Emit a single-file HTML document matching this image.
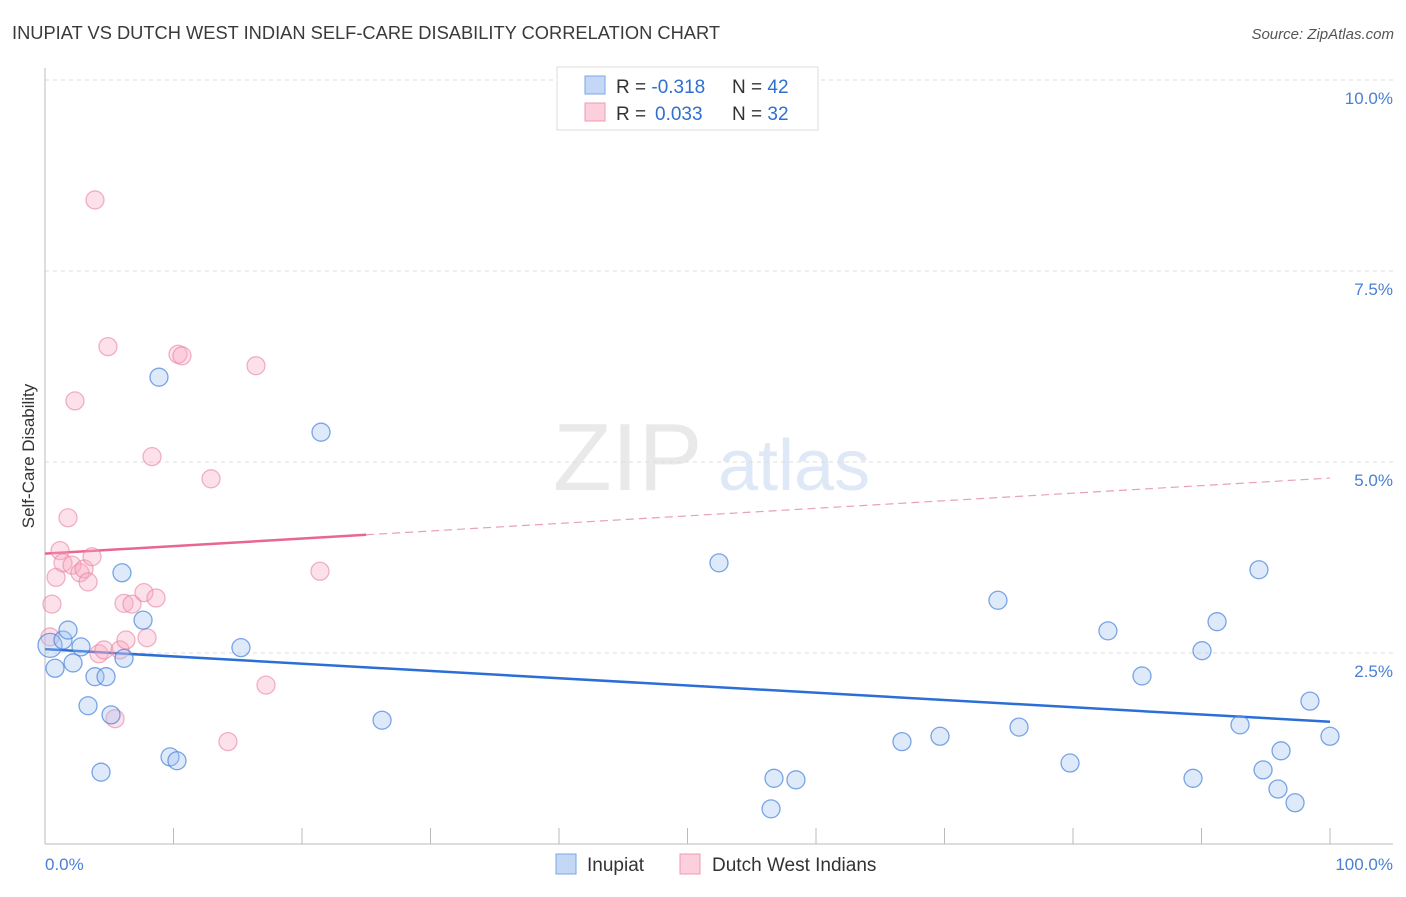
<!DOCTYPE html>
<html><head><meta charset="utf-8"><style>
body{margin:0;background:#fff;font-family:"Liberation Sans",sans-serif}
svg text{font-family:"Liberation Sans",sans-serif}
</style></head><body>
<svg id="chart" width="1406" height="892" viewBox="0 0 1406 892">
<text x="12" y="39" font-size="18.3" fill="#3a3a3a">INUPIAT VS DUTCH WEST INDIAN SELF-CARE DISABILITY CORRELATION CHART</text>
<text x="1394" y="39" font-size="15" font-style="italic" fill="#555" text-anchor="end">Source: ZipAtlas.com</text>
<g opacity="0.45">
<text x="553" y="490" font-size="96" font-family="Liberation Serif" fill="#d0d0d0">ZIP</text>
<text x="718" y="490" font-size="72" fill="#b9cdec">atlas</text>
</g>
<g id="grid"></g>
<line x1="45" y1="68" x2="45" y2="844" stroke="#bbb"/>
<line x1="45" y1="844" x2="1393" y2="844" stroke="#bbb"/>
<g id="ticks"></g>
<text transform="translate(34,456) rotate(-90)" font-size="17" fill="#333" text-anchor="middle">Self-Care Disability</text>
<text x="45" y="870" font-size="17" fill="#4a7fd4">0.0%</text>
<text x="1393" y="870" font-size="17" fill="#4a7fd4" text-anchor="end">100.0%</text>
<g id="lines"></g>
<g id="points"></g>
<g>
<rect x="557" y="67" width="261" height="63" fill="#fff" stroke="#ddd"/>
<rect x="585" y="76" width="20" height="18" fill="#c4d8f5" stroke="#7aa6e6"/>
<rect x="585" y="103" width="20" height="18" fill="#fbcfdc" stroke="#f09ab5"/>
<text x="616" y="93" font-size="19" fill="#333">R = <tspan fill="#2f6fd0">-0.318</tspan><tspan x="732">N = </tspan><tspan fill="#2f6fd0">42</tspan></text>
<text x="616" y="120" font-size="19" fill="#333">R = <tspan fill="#2f6fd0" x="655">0.033</tspan><tspan x="732">N = </tspan><tspan fill="#2f6fd0">32</tspan></text>
</g>
<g>
<rect x="556" y="854" width="20" height="20" fill="#c4d8f5" stroke="#7aa6e6"/>
<text x="587" y="871" font-size="19" fill="#333">Inupiat</text>
<rect x="680" y="854" width="20" height="20" fill="#fbcfdc" stroke="#f09ab5"/>
<text x="712" y="871" font-size="19" fill="#333">Dutch West Indians</text>
</g>
</svg>
<script>
const yTicks=[2.5,5,7.5,10];
const yTickLabels=["2.5%","5.0%","7.5%","10.0%"];
const xTicks=[0,10,20,30,40,50,60,70,80,90,100];
const inupiatX=[0.39,0.78,1.40,1.79,2.18,2.80,3.35,3.89,4.36,4.75,5.14,5.99,6.15,7.63,8.87,9.73,10.27,15.25,21.48,26.23,52.45,56.73,56.50,58.44,66.69,69.65,74.16,75.80,79.77,82.72,85.37,89.34,90.04,91.21,93.00,94.47,94.79,95.95,96.19,97.28,98.44,100];
const inupiatY=[2.60,2.30,2.67,2.80,2.37,2.58,1.81,2.19,0.94,2.19,1.69,3.55,2.43,2.93,6.11,1.14,1.09,2.57,5.39,1.62,3.68,0.86,0.46,0.84,1.34,1.41,3.19,1.53,1.06,2.79,2.20,0.86,2.53,2.91,1.56,3.59,0.97,0.72,1.22,0.54,1.87,1.41];
const dutchX=[0.39,0.54,0.86,1.17,1.40,1.79,2.10,2.33,2.72,3.04,3.35,3.66,3.89,4.20,4.59,4.90,5.45,5.84,6.15,6.30,6.77,7.70,7.94,8.33,8.64,10.35,10.66,12.92,14.24,16.42,17.20,21.40];
const dutchY=[2.71,3.14,3.49,3.84,3.68,4.27,3.65,5.80,3.55,3.60,3.43,3.76,8.43,2.49,2.54,6.51,1.64,2.54,3.15,2.67,3.14,3.29,2.70,5.07,3.22,6.41,6.39,4.78,1.34,6.26,2.08,3.57];
const inupiatTrend=[2.55,1.6];
const dutchTrend=[3.8,4.79];
const dutchSolidEnd=25;
const NS="http://www.w3.org/2000/svg";
const sx=v=>45+v*12.85, sy=v=>844-v*76.4;
function mk(tag,attrs,parent){const e=document.createElementNS(NS,tag);for(const k in attrs)e.setAttribute(k,attrs[k]);document.getElementById(parent).appendChild(e);return e;}
yTicks.forEach((t,i)=>{
 const g=mk('line',{x1:45,x2:1393,y1:sy(t),y2:sy(t),stroke:'#ddd','stroke-dasharray':'4,4'},'grid');
 
 
 const tx=mk('text',{x:1393,y:sy(t)+24,'font-size':17,fill:'#4a7fd4','text-anchor':'end'},'grid');
 tx.textContent=yTickLabels[i];
 
 
});
xTicks.forEach(t=>{
 const l=mk('line',{x1:sx(t),x2:sx(t),y1:828,y2:844,stroke:'#bbb'},'ticks');
 
 
});
const bl=mk('line',{x1:sx(0),y1:sy(inupiatTrend[0]),x2:sx(100),y2:sy(inupiatTrend[1]),stroke:'#2b6fd6','stroke-width':2.5},'lines');


const ym=dutchTrend[0]+(dutchTrend[1]-dutchTrend[0])*dutchSolidEnd/100;
const pl=mk('line',{x1:sx(0),y1:sy(dutchTrend[0]),x2:sx(dutchSolidEnd),y2:sy(ym),stroke:'#e8668f','stroke-width':2.5},'lines');


const pd=mk('line',{x1:sx(dutchSolidEnd),y1:sy(ym),x2:sx(100),y2:sy(dutchTrend[1]),stroke:'#e8a0b8','stroke-width':1.2,'stroke-dasharray':'8,5'},'lines');


dutchX.forEach((x,i)=>{
 const c=mk('circle',{cx:sx(x),cy:sy(dutchY[i]),r:9,fill:'rgba(248,170,195,0.35)',stroke:'rgba(232,130,160,0.6)','stroke-width':1.3},'points');
 
 
});
inupiatX.forEach((x,i)=>{
 const c=mk('circle',{cx:sx(x),cy:sy(inupiatY[i]),r:i===0?12:9,fill:'rgba(160,195,240,0.35)',stroke:'rgba(70,130,220,0.7)','stroke-width':1.3},'points');
 
 
});
</script>
</body></html>
